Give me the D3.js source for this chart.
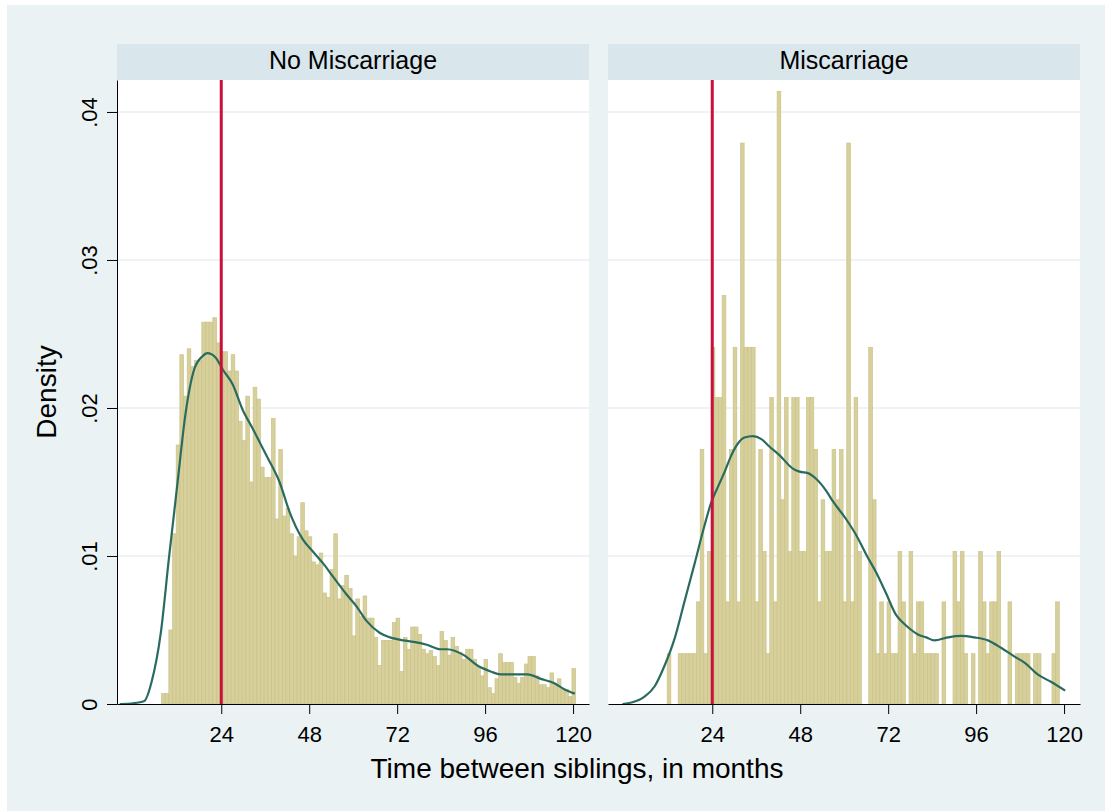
<!DOCTYPE html>
<html>
<head>
<meta charset="utf-8">
<title>Time between siblings</title>
<script src="https://cdn.jsdelivr.net/npm/d3@7/dist/d3.min.js"></script>
<style>
body { margin: 0; background: #fff; }
text { font-family: "Liberation Sans", Arial, sans-serif; fill: #000; }
</style>
</head>
<body>
<script>

var panels = ["No Miscarriage", "Miscarriage"];

// histogram bars, one per month (density)
var months1 = d3.range(8, 121);
var density1 = [
    .0007, .0007, .0050, .0115, .0175, .0236, .0208, .0240, .0228, .0232,
    .0232, .0258, .0258, .0258, .0261, .0244, .0238, .0238, .0225, .0236,
    .0225, .0191, .0178, .0208, .0150, .0214, .0206, .0160, .0153, .0153,
    .0193, .0125, .0172, .0127, .0132, .0115, .0100, .0113, .0136, .0117,
    .0113, .0096, .0094, .0102, .0075, .0072, .0091, .0115, .0071, .0080,
    .0087, .0078, .0046, .0071, .0059, .0073, .0058, .0058, .0045, .0026,
    .0043, .0043, .0043, .0055, .0058, .0022, .0045, .0037, .0052, .0052,
    .0047, .0037, .0034, .0036, .0032, .0026, .0049, .0043, .0033, .0045,
    .0039, .0035, .0030, .0037, .0037, .0030, .0025, .0019, .0030, .0011,
    .0007, .0017, .0034, .0028, .0028, .0028, .0018, .0014, .0018, .0027,
    .0032, .0032, .0019, .0013, .0013, .0011, .0021, .0013, .0017, .0010,
    .0010, .0005, .0024
];

var months2 = d3.range(12, 121);
var density2 = [
    .0034, 0, 0, .0034, .0034, .0034, .0034, .0034, .0069, .0172,
    .0034, .0103, .0241, .0207, .0207, .0276, .0069, .0172, .0241, .0069,
    .0379, .0241, .0241, .0241, .0069, .0172, .0103, .0034, .0207, .0069,
    .0414, .0138, .0207, .0103, .0207, .0207, .0103, .0103, .0207, .0207,
    .0172, .0069, .0138, .0103, .0103, .0172, .0138, .0172, .0069, .0379,
    .0069, .0207, .0103, 0, 0, .0241, .0138, .0034, .0069, .0034,
    .0069, .0034, .0034, .0103, .0069, 0, .0103, .0034, .0069, .0069,
    .0034, .0034, .0034, .0034, 0, .0069, 0, 0, .0103, .0069,
    .0103, .0034, 0, .0034, 0, .0103, .0069, .0034, .0069, .0069,
    .0103, 0, 0, .0069, 0, .0034, .0034, .0034, .0034, 0,
    .0034, .0034, 0, 0, 0, .0034, .0069, 0, 0
];

// kernel density curves: [month, density]
var kde1 = [
    [-3.7, 0], [0, .00005], [3, .0002], [5, .0015], [7.5, .0048], [9.7, .0098],
    [12, .0148], [14.3, .0197], [16.6, .0226], [18.9, .0235], [20.2, .0237],
    [22.5, .0234], [24.4, .0226], [27.1, .0216], [29.8, .0199], [32.6, .0186],
    [36.3, .0168], [39.9, .0150], [42.6, .0130], [46.3, .0111], [49, .0103],
    [51.8, .0095], [54.5, .0086], [58.2, .0074], [60.9, .0066], [63.7, .0056],
    [67.3, .0048], [70.1, .0045], [73.7, .0043], [76.5, .0042], [80.1, .0040],
    [83.8, .0037], [85.6, .0037], [90.2, .0033], [93.9, .0026], [97.5, .0022],
    [100.2, .0020], [103.9, .0020], [107.6, .0020], [111.2, .0017],
    [114.9, .0014], [117.6, .0010], [120.5, .0007]
];
var kde2 = [
    [-0.5, 0], [2, .0001], [5.5, .0005], [8.3, .0012], [11, .0026], [13.7, .0044],
    [16.4, .0069], [19.2, .0095], [21.5, .0117], [23.7, .0136], [25.6, .0147],
    [27.4, .0157], [29.2, .0168], [31, .0176], [32.8, .0180], [35.1, .0181],
    [37.4, .0179], [39.6, .0174], [42.4, .0168], [46, .0159], [47.8, .0157],
    [50.1, .0156], [52.4, .0152], [55.1, .0144], [56.9, .0137], [60.5, .0125],
    [63.3, .0114], [66, .0101], [68.7, .0089], [71.4, .0075], [74.2, .0060],
    [76, .0055], [77.8, .0051], [80.1, .0047], [82.4, .0045], [84.6, .0043],
    [88.3, .0045], [91.9, .0046], [95.5, .0045], [99.2, .0043], [102.8, .0038],
    [106.5, .0032], [109.2, .0028], [112.8, .0020], [116.4, .0015], [120.3, .0009]
];

var xTicks = [24, 48, 72, 96, 120];
var yTicks = [0, .01, .02, .03, .04];
var yTickLabels = ["0", ".01", ".02", ".03", ".04"];
var refMonth = 24;

var w = 1112;
var h = 811;
var plotTop = 80;
var plotBottom = 704;
var pw = 472;
var panelX = [117, 608];
var fontFam = "'Liberation Sans', Arial, sans-serif";

var xScale = d3.scaleLinear().domain([-4.45, 124.35]).range([0, pw]);
var yScale = d3.scaleLinear().domain([0, 0.04216]).range([plotBottom, plotTop]);

var svg = d3.select("body").append("svg")
    .attr("width", w)
    .attr("height", h);

svg.append("rect")
    .attr("x", 7).attr("y", 5)
    .attr("width", 1098).attr("height", 806)
    .attr("fill", "#eaf2f3");

var barData = [
    months1.map(function(m, i) { return [m, density1[i]]; }),
    months2.map(function(m, i) { return [m, density2[i]]; })
];
var kdeData = [kde1, kde2];

var line = d3.line()
    .x(function(d) { return xScale(d[0]); })
    .y(function(d) { return yScale(d[1]); })
    .curve(d3.curveMonotoneX);

panels.forEach(function(name, p) {
    var g = svg.append("g")
        .attr("transform", "translate(" + panelX[p] + ",0)");

    g.append("rect")
        .attr("x", 0).attr("y", plotTop)
        .attr("width", pw).attr("height", plotBottom - plotTop)
        .attr("fill", "#fff");

    // strip title
    g.append("rect")
        .attr("x", 0).attr("y", 44)
        .attr("width", pw).attr("height", 36)
        .attr("fill", "#d9e6eb");
    g.append("text")
        .attr("x", pw / 2).attr("y", 69)
        .attr("text-anchor", "middle")
        .attr("font-size", "25px")
        .text(name);

    g.selectAll("line.grid")
        .data(yTicks.filter(function(d) { return d > 0; }))
        .enter()
        .append("line")
        .attr("class", "grid")
        .attr("x1", 0).attr("x2", pw)
        .attr("y1", function(d) { return yScale(d); })
        .attr("y2", function(d) { return yScale(d); })
        .attr("stroke", "#e8f0f2")
        .attr("stroke-width", 1.5);

    g.selectAll("rect.bar")
        .data(barData[p].filter(function(d) { return d[1] > 0; }))
        .enter()
        .append("rect")
        .attr("class", "bar")
        .attr("x", function(d) { return xScale(d[0] - 0.3); })
        .attr("width", function(d) { return xScale(d[0] + 0.7) - xScale(d[0] - 0.3); })
        .attr("y", function(d) { return yScale(d[1]); })
        .attr("height", function(d) { return plotBottom - yScale(d[1]); })
        .attr("fill", "#d7d09d")
        .attr("stroke", "#cac386")
        .attr("stroke-width", 0.7);

    g.append("path")
        .datum(kdeData[p])
        .attr("d", line)
        .attr("fill", "none")
        .attr("stroke", "#2a6b60")
        .attr("stroke-width", 2.2);

    g.append("line")
        .attr("x1", xScale(refMonth)).attr("x2", xScale(refMonth))
        .attr("y1", plotTop).attr("y2", plotBottom)
        .attr("stroke", "#c8103a")
        .attr("stroke-width", 3);

    var xAxis = g.append("g")
        .attr("transform", "translate(0," + plotBottom + ")")
        .call(d3.axisBottom(xScale).tickValues(xTicks).tickSize(10).tickSizeOuter(0).tickPadding(12))
        .attr("font-size", 22)
        .attr("font-family", fontFam);
    xAxis.selectAll("path, line").attr("stroke", "#000");

    if (p === 0) {
        var yAxis = g.append("g")
            .call(d3.axisLeft(yScale).tickValues(yTicks).tickSize(10).tickSizeOuter(0)
                .tickFormat(function(d, i) { return yTickLabels[i]; }))
            .attr("font-size", 22)
            .attr("font-family", fontFam);
        yAxis.selectAll("path, line").attr("stroke", "#000");
        yAxis.selectAll("text")
            .attr("x", 0)
            .attr("y", -20)
            .attr("dy", 0)
            .attr("text-anchor", "middle")
            .attr("transform", "rotate(-90)");
    }
});

svg.append("text")
    .attr("transform", "translate(56,392) rotate(-90)")
    .attr("text-anchor", "middle")
    .attr("font-size", "28px")
    .text("Density");

svg.append("text")
    .attr("x", 577).attr("y", 778)
    .attr("text-anchor", "middle")
    .attr("font-size", "28px")
    .text("Time between siblings, in months");

</script>
</body>
</html>
